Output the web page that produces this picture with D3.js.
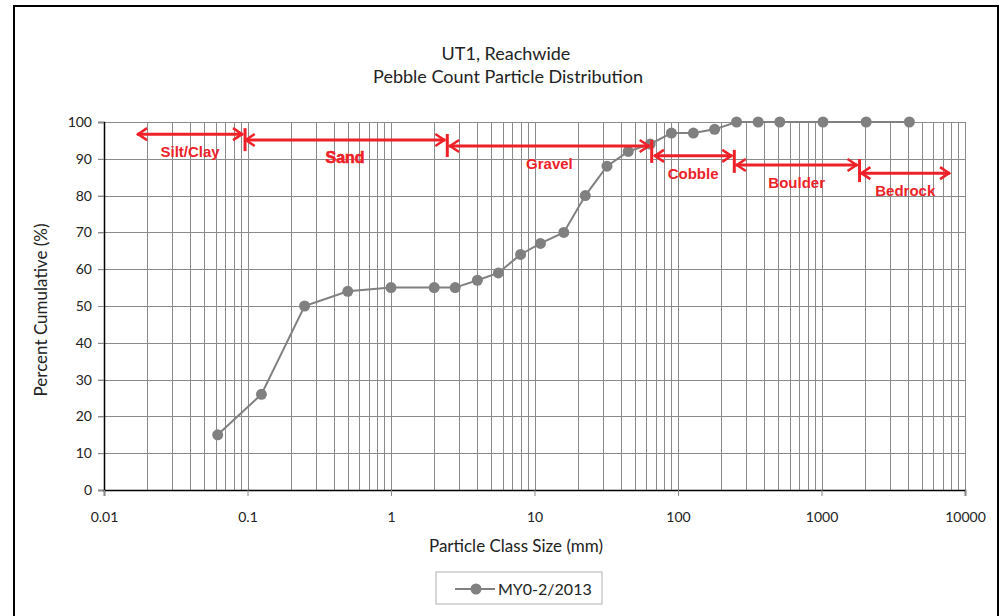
<!DOCTYPE html>
<html>
<head>
<meta charset="utf-8">
<script src="https://cdn.jsdelivr.net/npm/d3@7"></script>
<style>
  body { margin: 0; background: #fff; }
  text { font-family: Lato, "Open Sans", sans-serif; fill: #222; }
  .cls text { font-family: "Liberation Sans", Arial, sans-serif; font-weight: bold; fill: #ee2128; }
</style>
</head>
<body>
<div id="chart"></div>
<script>
// particle size (mm) and cumulative percent
const sizes = [0.062, 0.125, 0.25, 0.5, 1, 2, 2.8, 4, 5.6, 8, 11, 16, 22.6, 32, 45, 64, 90, 128, 180, 256, 362, 512, 1024, 2048, 4096];
const cumPct = [15, 26, 50, 54, 55, 55, 55, 57, 59, 64, 67, 70, 80, 88, 92, 94, 97, 97, 98, 100, 100, 100, 100, 100, 100];

const xTicks = [0.01, 0.1, 1, 10, 100, 1000, 10000];
const yTicks = [0, 10, 20, 30, 40, 50, 60, 70, 80, 90, 100];

// size class annotations: name, from (mm), to (mm), height (%)
const classNames = ["Silt/Clay", "Sand", "Gravel", "Cobble", "Boulder", "Bedrock"];
const classFrom  = [0.017, 0.0957, 2.54, 68, 253, 1866];
const classTo    = [0.0931, 2.39, 63.5, 239, 1783, 7870];
const classPct   = [96.7, 95.1, 93.5, 90.8, 88.3, 86.1];
const seriesName = "MY0-2/2013";

function drawChart(container) {
  const W = 1003, H = 616;
  const m = { left: 104, right: 38, top: 122, bottom: 126 };
  const red = "#ee2128", grey = "#808080";

  const svg = d3.select(container).append("svg")
    .attr("width", W).attr("height", H);

  // outer frame
  svg.append("rect")
    .attr("x", 14).attr("y", 6).attr("width", 984).attr("height", 620)
    .attr("fill", "none").attr("stroke", "#000").attr("stroke-width", 2);

  const x = d3.scaleLog().domain([0.01, 10000]).range([m.left, W - m.right]);
  const y = d3.scaleLinear().domain([0, 100]).range([H - m.bottom, m.top]);

  // minor + major vertical grid
  const vgrid = [];
  for (let e = -2; e < 4; e++) for (let k = 1; k < 10; k++) vgrid.push(k * Math.pow(10, e));
  vgrid.push(10000);
  svg.append("g").selectAll("line").data(vgrid.slice(1)).join("line")
    .attr("x1", d => Math.round(x(d)) + 0.5).attr("x2", d => Math.round(x(d)) + 0.5)
    .attr("y1", y(100)).attr("y2", y(0))
    .attr("stroke", "#8a8a8a").attr("stroke-width", 1);

  svg.append("g").selectAll("line").data(yTicks.slice(1)).join("line")
    .attr("x1", m.left - 6).attr("x2", x(10000))
    .attr("y1", d => Math.round(y(d)) + 0.5).attr("y2", d => Math.round(y(d)) + 0.5)
    .attr("stroke", "#8a8a8a").attr("stroke-width", 1);

  // axes
  const yAxis = svg.append("g")
    .attr("transform", `translate(${m.left},0)`)
    .call(d3.axisLeft(y).tickValues(yTicks).tickSize(6).tickPadding(6).tickFormat(d3.format("d")));
  yAxis.select(".domain").attr("stroke", "#000").attr("stroke-width", 1.5);
  yAxis.selectAll(".tick line").attr("stroke", "#8a8a8a");
  yAxis.selectAll("text").style("font-size", "14px").attr("fill", "#222");

  const xAxis = svg.append("g")
    .attr("transform", `translate(0,${y(0)})`)
    .call(d3.axisBottom(x).tickValues(xTicks).tickSize(6).tickPadding(16).tickFormat(d => String(d)));
  xAxis.select(".domain").attr("stroke", "#000").attr("stroke-width", 1.5);
  xAxis.selectAll(".tick line").attr("stroke", "#8a8a8a");
  xAxis.selectAll("text").style("font-size", "14px").attr("fill", "#222");

  // series
  const pts = sizes.map((s, i) => [s, cumPct[i]]);
  svg.append("path")
    .datum(pts)
    .attr("fill", "none").attr("stroke", grey).attr("stroke-width", 2)
    .attr("d", d3.line().x(d => x(d[0])).y(d => y(d[1])));
  svg.append("g").selectAll("circle").data(pts).join("circle")
    .attr("cx", d => x(d[0])).attr("cy", d => y(d[1])).attr("r", 5.5)
    .attr("fill", grey);

  // size class arrows
  const cls = svg.append("g").attr("class", "cls");
  classNames.forEach((name, i) => {
    const x0 = x(classFrom[i]), x1 = x(classTo[i]), yy = y(classPct[i]);
    const g = cls.append("g");
    g.append("line").attr("x1", x0).attr("x2", x1).attr("y1", yy).attr("y2", yy)
      .attr("stroke", red).attr("stroke-width", 3);
    g.append("path")
      .attr("d", `M${x0 + 10},${yy - 6}L${x0 + 1},${yy}L${x0 + 10},${yy + 6}M${x1 - 10},${yy - 6}L${x1 - 1},${yy}L${x1 - 10},${yy + 6}`)
      .attr("fill", "none").attr("stroke", red).attr("stroke-width", 2.5);
    if (i < classNames.length - 1) {
      g.append("line").attr("x1", x1 + 2).attr("x2", x1 + 2)
        .attr("y1", yy - 6).attr("y2", yy + 17)
        .attr("stroke", red).attr("stroke-width", 3);
    }
    g.append("text").attr("x", (x0 + x1) / 2).attr("y", yy + 23)
      .attr("text-anchor", "middle")
      .style("font-size", name === "Sand" ? "16px" : "15px")
      .attr("stroke", name === "Sand" ? red : "none").attr("stroke-width", 0.6)
      .text(name);
  });

  // titles
  svg.append("text").attr("x", 506).attr("y", 60).attr("text-anchor", "middle")
    .style("font-size", "18px").text("UT1, Reachwide");
  svg.append("text").attr("x", 508).attr("y", 83).attr("text-anchor", "middle")
    .style("font-size", "18px").text("Pebble Count Particle Distribution");
  svg.append("text").attr("x", 516).attr("y", 552).attr("text-anchor", "middle")
    .style("font-size", "17px").text("Particle Class Size (mm)");
  svg.append("text").attr("transform", "translate(47,310) rotate(-90)")
    .attr("text-anchor", "middle")
    .style("font-size", "17px").text("Percent Cumulative (%)");

  // legend
  const lg = svg.append("g").attr("transform", "translate(436,572)");
  lg.append("rect").attr("width", 166).attr("height", 32)
    .attr("fill", "#fff").attr("stroke", "#b0b0b0");
  lg.append("line").attr("x1", 19).attr("x2", 59).attr("y1", 17).attr("y2", 17)
    .attr("stroke", grey).attr("stroke-width", 2);
  lg.append("circle").attr("cx", 40).attr("cy", 17).attr("r", 5.5).attr("fill", grey);
  lg.append("text").attr("x", 62).attr("y", 23).style("font-size", "16px").text(seriesName);
}

drawChart(document.getElementById("chart"));
</script>
</body>
</html>
